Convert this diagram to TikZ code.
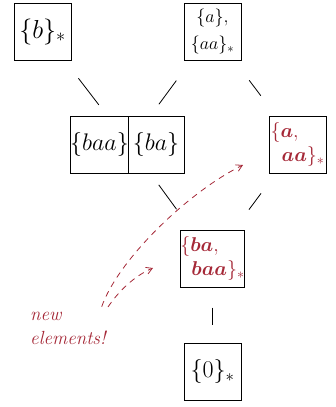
\RequirePackage{fix-cm}
\documentclass[tikz,border=0pt]{standalone}
\usepackage{amsmath,bm}
\usetikzlibrary{arrows.meta}
\definecolor{myred}{RGB}{165,40,55}
\begin{document}
\begin{tikzpicture}[x=1pt,y=-1pt,
  box/.style={draw, line width=0.9pt, minimum width=57pt, minimum height=57pt, inner sep=0pt},
  conn/.style={line width=0.8pt},
  newarrow/.style={myred, line width=0.8pt, dash pattern=on 6pt off 5pt, -{Straight Barb[angle=60:7pt]}},
  redtxt/.style={text=myred}]
\useasboundingbox (0,0) rectangle (335,407);
\node[box, font=\fontsize{26}{30}\selectfont] (b) at (42.5,31.5) {$\{b\}_*$};
\node[box, align=center, font=\fontsize{18}{27}\selectfont] (a) at (212.5,31.5) {$\{a\},$\\$\{aa\}_*$};
\node[box, font=\fontsize{24}{28}\selectfont] (baa) at (99.5,144.5) {$\{baa\}$};
\node[box, minimum width=56pt, font=\fontsize{24}{28}\selectfont] (ba) at (156,144.5) {$\{ba\}$};
\node[box, redtxt, align=left, font=\fontsize{20}{26}\selectfont] (ra) at (297.5,144.5) {$\{\boldsymbol{a},$\\[-2pt]$\;\;\boldsymbol{aa}\}_*$};
\node[box, redtxt, align=left, font=\fontsize{20}{26}\selectfont] (rb) at (212.5,258.5) {$\{\boldsymbol{ba},$\\[-2pt]$\;\;\boldsymbol{baa}\}_*$};
\node[box, font=\fontsize{24}{28}\selectfont] (z) at (212.5,371.5) {$\{0\}_*$};
\node[redtxt, align=left, anchor=north west, inner sep=0pt, font=\fontsize{19}{24}\selectfont\itshape] (lbl) at (30,312) {new\\elements!};
\draw[conn, shorten <=59pt, shorten >=50pt] (b.center) -- (baa.east);
\draw[conn, shorten <=61pt, shorten >=50pt] (a.center) -- (baa.east);
\draw[conn, shorten <=61pt, shorten >=61pt] (a.center) -- (ra.center);
\draw[conn, shorten <=50pt, shorten >=61pt] (baa.east) -- (rb.center);
\draw[conn, shorten <=61pt, shorten >=61pt] (ra.center) -- (rb.center);
\draw[conn, shorten <=49pt, shorten >=47pt] (rb.center) -- (z.center);
\coordinate (s1) at (101.7,306.7);
\coordinate (s2) at (108,307);
\coordinate (e1) at (243,165);
\coordinate (e2) at (153,268);
\draw[newarrow] (s1) .. controls (118,260) and (188,192) .. (e1);
\draw[newarrow] (s2) .. controls (118,292) and (134,276) .. (e2);
\end{tikzpicture}
\end{document}
